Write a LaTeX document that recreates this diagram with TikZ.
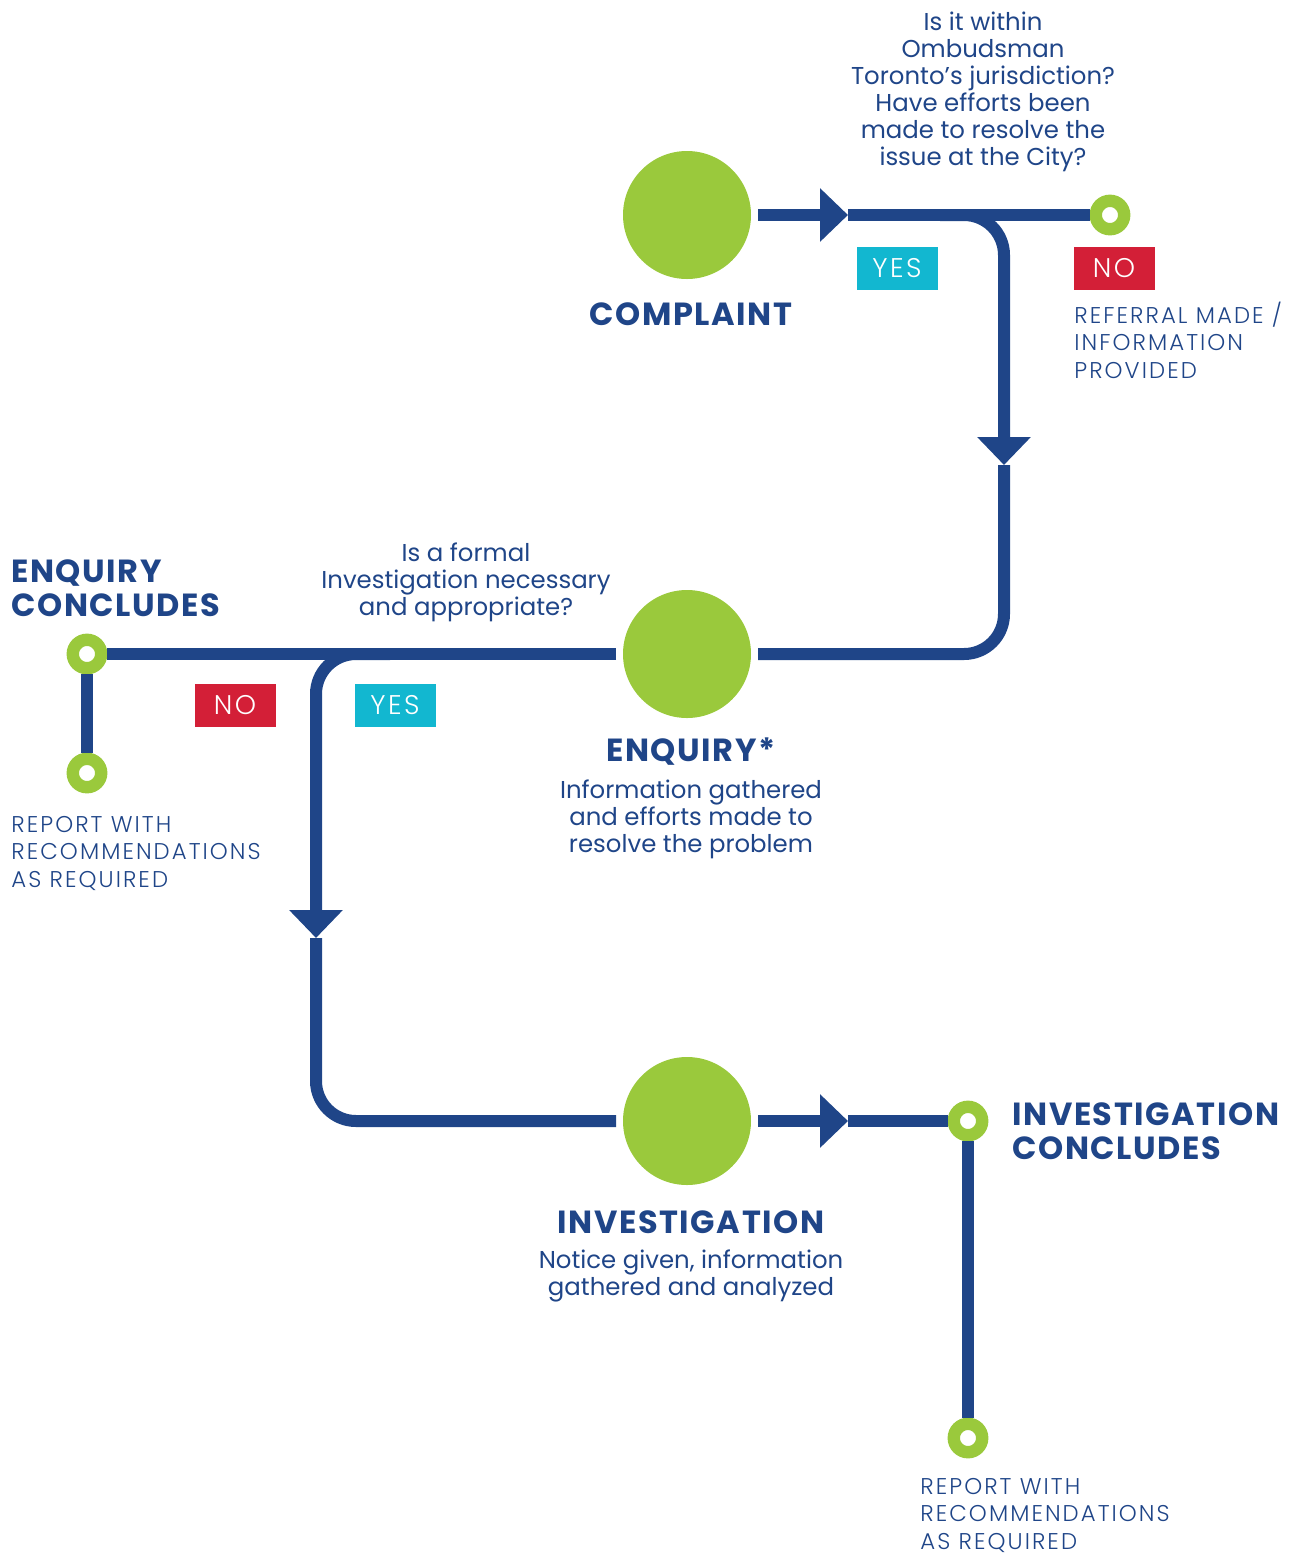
\documentclass[tikz,border=0pt]{standalone}
\usepackage{fontspec}
\setmainfont{Poppins}
\newfontfamily\titlefont{Poppins}[LetterSpace=5]
\newfontfamily\capsfont{Poppins Light}[LetterSpace=9]
\usetikzlibrary{arrows.meta}
\definecolor{ombBlue}{HTML}{1F4588}
\definecolor{ombGreen}{HTML}{9AC93C}
\definecolor{ombCyan}{HTML}{12B7D0}
\definecolor{ombRed}{HTML}{D31F37}
\tikzset{My Line Style/.style={line width=6pt, ombBlue},
	My Arrow/.style={-{Triangle[width=26pt,length=14pt]}},
	My Big Dot/.style={circle, fill=ombGreen, minimum size=64pt, inner sep=0pt, outer sep=3.5pt},
	My Ring/.style={circle, draw=ombGreen, fill=white, line width=6.2pt, minimum size=14.2pt, inner sep=0pt},
	My Title/.style={text=ombBlue, font=\titlefont\fontsize{16}{17}\selectfont\bfseries, inner sep=0pt},
	My Text/.style={text=ombBlue, font=\fontsize{12.2}{13.5}\selectfont, align=center, inner sep=0pt},
	My Caps/.style={text=ombBlue, font=\capsfont\fontsize{11.4}{13.75}\selectfont, align=left, anchor=west, inner sep=0pt},
	My Yes/.style={fill=ombCyan, text=white, font=\capsfont\fontsize{13.5}{14}\selectfont, minimum width=40.5pt, minimum height=21.5pt, inner sep=0pt},
	My No/.style={My Yes, fill=ombRed}}

\begin{document}
\begin{tikzpicture}[x=0.5pt,y=-0.5pt]
	\useasboundingbox (0,0) rectangle (1311,1555);
	% stations
	\node[My Big Dot] (complaint) at (687,215) {};
	\node[My Big Dot] (enquiry) at (687,654) {};
	\node[My Big Dot] (investigation) at (687,1121) {};
	\node[My Ring] (referral) at (1110,215) {};
	\node[My Ring] (enqEnd) at (87,654) {};
	\node[My Ring] (enqReport) at (87,773) {};
	\node[My Ring] (invEnd) at (968,1121) {};
	\node[My Ring] (invReport) at (968,1438) {};
	
	\coordinate (tipA) at (848,215);
	\coordinate (forkA) at (940,215);
	\coordinate (tipB) at (1004,465);
	\coordinate (forkB) at (390,654);
	\coordinate (tipC) at (316,938);
	\coordinate (tipD) at (848,1121);
	
	\draw [My Line Style,My Arrow] (complaint) -- (tipA);
	\draw [My Line Style] (tipA) -- (referral);
	\draw [My Line Style,My Arrow,rounded corners=20pt] (forkA) -| (tipB);
	\draw [My Line Style,rounded corners=20pt] (tipB) |- (enquiry);
	\draw [My Line Style] (enquiry) -- (enqEnd);
	\draw [My Line Style] (enqEnd) -- (enqReport);
	\draw [My Line Style,My Arrow,rounded corners=20pt] (forkB) -| (tipC);
	\draw [My Line Style,rounded corners=20pt] (tipC) |- (investigation);
	\draw [My Line Style,My Arrow] (investigation) -- (tipD);
	\draw [My Line Style] (tipD) -- (invEnd);
	\draw [My Line Style] (invEnd) -- (invReport);
	
	% labels
	\node[My Text] (qJuris) at (983,92) {Is it within\\Ombudsman\\Toronto’s jurisdiction?\\Have efforts been\\made to resolve the\\issue at the City?};
	\node[My Yes] (yesA) at (897,268) {YES};
	\node[My No] (noA) at (1114,268) {NO};
	\node[My Caps] (referralText) at (1074,340) {REFERRAL MADE /\\INFORMATION\\PROVIDED};
	\node[My Title] (complaintText) at (691,314) {COMPLAINT};
	
	\node[My Title, align=left, anchor=west] (enqEndText) at (11,588) {ENQUIRY\\CONCLUDES};
	\node[My Text] (qFormal) at (466,582) {Is a formal\\Investigation necessary\\and appropriate?};
	\node[My No] (noB) at (235,705) {NO};
	\node[My Yes] (yesB) at (395,705) {YES};
	\node[My Caps] (enqReportText) at (11,853) {REPORT WITH\\RECOMMENDATIONS\\AS REQUIRED};
	\node[My Title] (enquiryText) at (691,752) {ENQUIRY*};
	\node[My Text] (enquiryInfo) at (691,819) {Information gathered\\and efforts made to\\resolve the problem};
	
	\node[My Title] (investigationText) at (691,1222) {INVESTIGATION};
	\node[My Text] (investigationInfo) at (691,1276) {Notice given, information\\gathered and analyzed};
	\node[My Title, align=left, anchor=west] (invEndText) at (1012,1131) {INVESTIGATION\\CONCLUDES};
	\node[My Caps] (invReportText) at (920,1515) {REPORT WITH\\RECOMMENDATIONS\\AS REQUIRED};
\end{tikzpicture}
\end{document}
